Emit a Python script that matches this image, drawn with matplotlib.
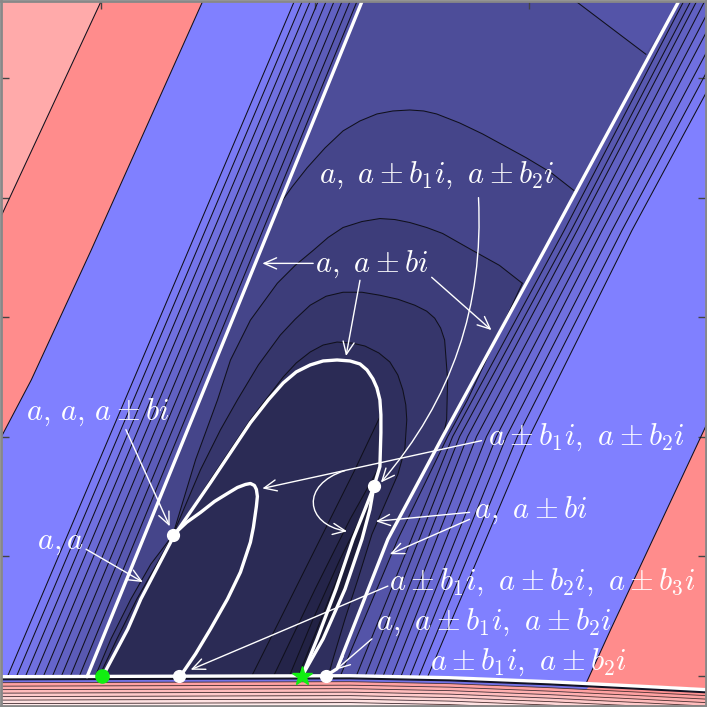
import matplotlib
matplotlib.use('Agg')
import numpy as np
import matplotlib.pyplot as plt
from matplotlib.patches import Polygon, FancyArrowPatch
from matplotlib.path import Path

plt.rcParams['mathtext.fontset'] = 'cm'

# positions: x to the right, y downwards (y axis inverted)

# straight level lines outside the two white borders
red_edge_x = [110, 100, 0, -300]
red_edge_y = [-20, 0, 215, 860]
blue_left_x = [211, 202, 90, 30, 0, -150]
blue_left_y = [-20, 0, 250, 380, 437, 720]
blue_right_x = [916, 907, 707, 612, 580]
blue_right_y = [-20, 0, 427, 630, 700]

thin_left_top = [294, 302, 310, 318, 326, 334, 342, 350, 357]   # x at y=0
thin_left_bot = [6, 15, 24, 33, 42, 51, 60, 69, 78]             # x at y=678
thin_right_y = [0, 230, 437, 678]
thin_right_x = [[757, 633, 530, 428],
                [746, 623, 518, 419],
                [735, 613, 507, 410],
                [724, 603, 497, 401],
                [715, 595, 487, 392],
                [706, 587, 477, 383],
                [698, 578, 468, 374],
                [692, 572, 460, 365],
                [685, 565, 453, 356]]
thin_t = [0.955, 0.915, 0.875, 0.835, 0.795, 0.76, 0.725, 0.69, 0.66]

wedge_x = [523, 468, 448, 398, 340]
wedge_y = [283, 400, 437, 540, 678]

# white borders
lw_x = [366, 362, 86]
lw_y = [-10, 0, 678]
rw_x = [686, 680, 545, 443, 388, 337, 326]
rw_y = [-10, 0, 250, 437, 540, 670, 677]

# curved level lines inside
c0_x = [577, 610, 647]
c0_y = [0, 25, 53]
a1_x = [277, 292, 307, 325, 343, 360, 377, 393, 410, 424, 437, 460, 483, 505, 527, 552, 575]
a1_y = [207, 186, 167, 147, 130, 120, 113, 110, 109, 110, 113, 122, 133, 145, 157, 172, 190]
a2_x = [94, 110, 130, 150, 172, 195, 217, 230, 250, 277, 295, 313, 328, 343, 362, 380, 395, 410,
        427, 443, 473, 500, 523]
a2_y = [678, 640, 600, 565, 536, 460, 400, 360, 320, 283, 265, 250, 237, 227, 221, 218, 219, 222,
        227, 233, 250, 265, 283]
a3_x = [98, 116, 136, 156, 172, 200, 220, 237, 258, 280, 295, 310, 326, 343, 362, 380, 398, 415,
        427, 435, 441, 445, 448, 447, 444]
a3_y = [678, 640, 600, 565, 536, 470, 430, 400, 365, 335, 319, 305, 296, 292, 292, 295, 299, 305,
        311, 318, 328, 340, 380, 420, 435]
a4_x = [102, 127, 140, 173, 210, 250, 283, 296, 310, 323, 337, 352, 365, 379, 390, 398, 403, 406,
        407, 405, 398, 385, 372, 358, 345, 333, 328]
a4_y = [677, 630, 600, 537, 480, 420, 377, 363, 352, 345, 342, 343, 346, 353, 362, 375, 390, 405,
        420, 450, 475, 505, 535, 580, 620, 660, 678]
inner_x = [[381, 355, 325, 290, 250],
           [378, 350, 315, 272],
           [365, 340, 313, 288],
           [347, 325, 297]]
inner_y = [[415, 470, 530, 600, 680],
           [470, 520, 590, 680],
           [510, 560, 620, 680],
           [555, 610, 680]]
inner_t = [0.31, 0.285, 0.265, 0.245]

# white curves
big_x = [102, 127, 140, 173, 210, 250, 268, 283, 296, 310, 323, 337, 350, 360, 367, 373, 377,
         380, 381, 381, 380, 374]
big_y = [677, 630, 600, 537, 483, 423, 400, 383, 372, 365, 361, 360, 361, 364, 370, 379, 388,
         400, 415, 433, 467, 487]
small_x = [172, 186, 200, 214, 227, 237, 245, 250, 254, 256, 257, 256, 253, 250, 240, 227, 210,
           195, 180]
small_y = [536, 523, 513, 502, 494, 488, 485, 484, 486, 490, 497, 507, 528, 543, 573, 600, 630,
           655, 677]
lens_l_x = [374, 365, 353, 336, 317, 302]
lens_l_y = [487, 510, 540, 590, 640, 677]
lens_r_x = [374, 370, 362, 345, 323, 302]
lens_r_y = [487, 510, 540, 590, 640, 677]
base_x = [-5, 0, 350, 450, 550, 650, 707, 712]
base_y = [678, 678, 677, 679, 683, 688, 691, 691.3]

# stripes below the base line
stripe_off = [3, 6, 9.5, 13, 16.5, 20, 23.5, 27]
stripe_s = [0.95, 0.82, 0.7, 0.58, 0.46, 0.35, 0.25, 0.18]
blue_strip_end = 590

dots_x = [172, 374, 178, 326]
dots_y = [536, 487, 677, 677]
green_dot = (101, 677)
green_star = (302, 677)

labels = [r'$a,\ a \pm b_1i,\ a \pm b_2i$', r'$a,\ a \pm bi$', r'$a,\, a,\, a \pm bi$', r'$a, a$',
          r'$a \pm b_1i,\ a \pm b_2i$', r'$a,\ a \pm bi$', r'$a \pm b_1i,\ a \pm b_2i,\ a \pm b_3i$',
          r'$a,\ a \pm b_1i,\ a \pm b_2i$', r'$a \pm b_1i,\ a \pm b_2i$']
label_x = [437, 372, 97, 59, 587, 532, 543, 495, 529]
label_y = [175, 264, 413, 543, 438, 511, 583, 623, 664]

arrow_from = [(479, 197), (313, 263), (360, 280), (432, 277), (125, 430), (85, 550),
              (482, 441), (470, 513), (470, 520), (388, 587), (372, 640)]
arrow_to = [(381, 483), (262, 263), (346, 356), (492, 330), (169, 527), (142, 583),
            (262, 489), (376, 522), (390, 555), (190, 671), (336, 671)]
arrow_rad = [-0.2, 0, 0, 0, 0, 0, 0, 0, 0, 0, 0]
loop_arrow = [(345, 471), (300, 485), (305, 525), (347, 532)]

tick_x = [100, 315, 530]
tick_y = [77, 197, 317, 437, 557, 677]


def blue(t):
    return (0.5 * t, 0.5 * t, t)


def red(s):
    return (1.0, 1 - 0.45 * s, 1 - 0.45 * s)


def fill(pts, color, z=1):
    ax.add_patch(Polygon(pts, closed=True, facecolor=color, edgecolor='none', zorder=z))


def pts(xs, ys):
    return list(zip(xs, ys))


fig = plt.figure(figsize=(7.07, 7.07), dpi=100)
ax = fig.add_axes([0.002, 0.002, 0.996, 0.996])
ax.set_xlim(0, 707)
ax.set_ylim(707, 0)
ax.set_facecolor(red(0.74))

# outer bands
fill(pts(red_edge_x, red_edge_y) + [(1000, 860), (1000, -20)], red(1.0))
fill(pts(blue_left_x, blue_left_y) + pts(blue_right_x, blue_right_y)[::-1], blue(1.0))
for k in range(len(thin_left_top)):
    left = [(thin_left_top[k], -20), (thin_left_top[k], 0), (thin_left_bot[k], 678), (thin_left_bot[k], 720)]
    xr = thin_right_x[k]
    right = [(xr[0], -20)] + pts(xr, thin_right_y) + [(xr[-1], 720)]
    fill(left + right[::-1], blue(thin_t[k]))

rw_pts = pts(rw_x, rw_y)
fill(pts(wedge_x, wedge_y) + [(340, 720), (318, 720)] + [p for p in rw_pts if p[1] > 283][::-1], blue(0.58))

# inside the white borders
fill(pts(lw_x, lw_y) + [(78, 720), (318, 720)] + rw_pts[::-1], blue(0.6))
fill([(570, -10)] + pts(c0_x, c0_y) + [(680, 0), (686, -10)], blue(0.66))
fill(pts(a1_x, a1_y) + [p for p in rw_pts if p[1] > 190] + [(318, 720), (70, 720)], blue(0.54))
fill(pts(a2_x, a2_y) + [p for p in rw_pts if p[1] > 283] + [(318, 720), (90, 720)], blue(0.48))
fill(pts(a3_x, a3_y) + [p for p in rw_pts if p[1] > 435] + [(318, 720), (95, 720)], blue(0.42))
fill(pts(a4_x, a4_y) + [(326, 720), (100, 720)], blue(0.37))
fill(pts(big_x, big_y) + pts(lens_r_x, lens_r_y)[1:] + [(302, 720), (100, 720)], blue(0.335))
big_right = [p for p in pts(big_x, big_y) if p[0] > 350]
for k in range(len(inner_x)):
    y0 = inner_y[k][0]
    poly = pts(inner_x[k], inner_y[k]) + [(inner_x[k][-1], 720), (302, 720)]
    poly += [p for p in pts(lens_r_x, lens_r_y)[::-1] if p[1] > y0]
    poly += [p for p in big_right[::-1] if p[1] > y0 and p[1] < 487]
    fill(poly, blue(inner_t[k]))
fill(pts(lens_l_x, lens_l_y) + pts(lens_r_x, lens_r_y)[::-1], blue(0.22))

# thin black level lines
thin = dict(color='#10101c', lw=0.75, zorder=2)
ax.plot(red_edge_x, red_edge_y, **thin)
ax.plot(blue_left_x, blue_left_y, **thin)
ax.plot(blue_right_x, blue_right_y, **thin)
for k in range(len(thin_left_top)):
    ax.plot([thin_left_top[k], thin_left_bot[k]], [0, 678], **thin)
    ax.plot(thin_right_x[k], thin_right_y, **thin)
ax.plot(wedge_x, wedge_y, **thin)
for xs, ys in [(c0_x, c0_y), (a1_x, a1_y), (a2_x, a2_y), (a3_x, a3_y), (a4_x, a4_y)]:
    ax.plot(xs, ys, **thin)
for k in range(len(inner_x)):
    ax.plot(inner_x[k], inner_y[k], **thin)

# stripes under the base line
bx = np.array(base_x, dtype=float)
by = np.array(base_y, dtype=float)
fill(list(zip(bx, by - 1)) + list(zip(bx, by + stripe_off[0]))[::-1], '#141428', 3)
for i in range(len(stripe_off)):
    lower = by + stripe_off[i + 1] if i + 1 < len(stripe_off) else by + 40
    fill(list(zip(bx, by + stripe_off[i])) + list(zip(bx, lower))[::-1], red(stripe_s[i]), 3)
keep = bx < blue_strip_end
y_end = np.interp(blue_strip_end, bx, by)
strip = list(zip(bx[keep], by[keep] + stripe_off[0])) + [(blue_strip_end, y_end + stripe_off[0]),
                                                         (blue_strip_end - 3, y_end + stripe_off[1])]
strip += list(zip(bx[keep], by[keep] + stripe_off[1]))[::-1]
fill(strip, blue(0.9), 3)
for i in range(1, len(stripe_off)):
    ax.plot(bx, by + stripe_off[i], color='#4a3232', lw=0.6, zorder=4)
ax.plot(bx, by + stripe_off[0], color='#101020', lw=1.0, zorder=4)

# white curves
white = dict(color='white', lw=2.4, zorder=5, solid_joinstyle='round', solid_capstyle='round')
ax.plot(lw_x, lw_y, **white)
ax.plot(rw_x, rw_y, **white)
ax.plot(big_x, big_y, **white)
ax.plot(small_x, small_y, **white)
ax.plot(lens_l_x, lens_l_y, **white)
ax.plot(lens_r_x, lens_r_y, **white)
ax.plot(base_x, base_y, **white)

ax.plot(dots_x, dots_y, 'o', color='white', ms=8.5, zorder=6)
ax.plot(*green_dot, 'o', color='#11ee11', ms=9.5, zorder=6)
ax.plot(*green_star, '*', color='#11ee11', ms=15, zorder=6)

# annotations
for (x0, y0), (x1, y1), rad in zip(arrow_from, arrow_to, arrow_rad):
    ax.add_patch(FancyArrowPatch((x0, y0), (x1, y1), arrowstyle='->,head_length=0.45,head_width=0.2',
                                 connectionstyle=f'arc3,rad={rad}', mutation_scale=20,
                                 color='white', lw=1.0, shrinkA=0, shrinkB=0, zorder=7))
loop = Path(loop_arrow, [Path.MOVETO, Path.CURVE4, Path.CURVE4, Path.CURVE4])
ax.add_patch(FancyArrowPatch(path=loop, arrowstyle='->,head_length=0.45,head_width=0.2',
                             mutation_scale=20, color='white', lw=1.0, zorder=7))
for s, x, y in zip(labels, label_x, label_y):
    ax.text(x, y, s, ha='center', va='center', color='white', fontsize=22, zorder=8)

ax.set_xticks(tick_x)
ax.set_yticks(tick_y)
ax.tick_params(direction='in', length=6, width=1, color='#444444', top=True, right=True,
               labelbottom=False, labelleft=False)
for sp in ax.spines.values():
    sp.set_color('#888888')
    sp.set_linewidth(2)
    sp.set_zorder(9)

fig.savefig('out.png', dpi=100)
